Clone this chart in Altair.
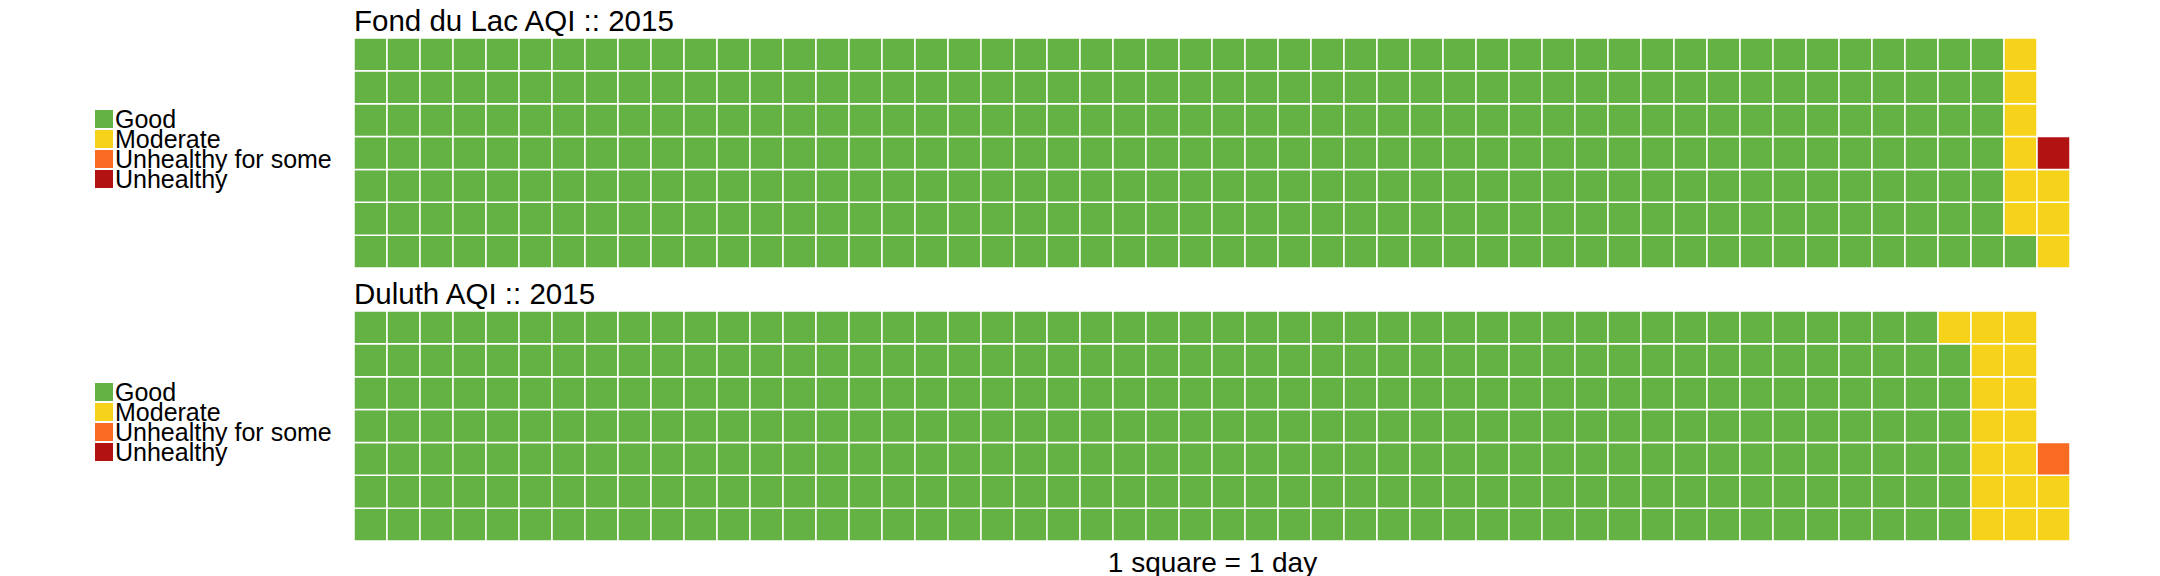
import altair as alt
import pandas as pd

# AQI categories and colours
categories = ["Good", "Moderate", "Unhealthy for some", "Unhealthy"]
colors = ["#64b244", "#f6d31a", "#f96a23", "#b31212"]

# number of days per category in 2015
fond_du_lac_days = [351, 9, 0, 1]
duluth_days = [342, 17, 1, 0]

titles = ["Fond du Lac AQI :: 2015", "Duluth AQI :: 2015"]
caption = "1 square = 1 day"

N_ROWS = 7
N_COLS = 52
FONT = "Liberation Sans"


def cells(counts):
    recs = []
    i = 0
    for cat, n in zip(categories, counts):
        for _ in range(n):
            recs.append({"col": i // N_ROWS, "row": i % N_ROWS, "category": cat})
            i += 1
    return pd.DataFrame(recs)


def panel(counts, title, with_caption):
    df = cells(counts)
    leg = pd.DataFrame({"category": categories})
    color = alt.Color(
        "category:N", scale=alt.Scale(domain=categories, range=colors), legend=None
    )
    if with_caption:
        x_axis = alt.Axis(
            title=caption, labels=False, ticks=False, domain=False, grid=False,
            titleFontSize=28, titleFont=FONT, titleFontWeight="normal",
            titleColor="black", titlePadding=8,
        )
    else:
        x_axis = None

    waffle = (
        alt.Chart(df)
        .transform_calculate(col1="datum.col + 1", row1="datum.row + 1")
        .mark_rect(stroke="white", strokeWidth=1.5)
        .encode(
            x=alt.X("col:Q", scale=alt.Scale(domain=[0, N_COLS], nice=False, zero=False), axis=x_axis),
            x2="col1:Q",
            y=alt.Y("row:Q", scale=alt.Scale(domain=[0, N_ROWS], nice=False, zero=False), axis=None),
            y2="row1:Q",
            color=color,
        )
    )

    legend_y = alt.Y(
        "category:N",
        scale=alt.Scale(type="point", domain=categories, range=[81, 141], padding=0),
        axis=None,
    )
    squares = (
        alt.Chart(leg)
        .mark_square(size=324, opacity=1, filled=True)
        .encode(x=alt.value(-250), y=legend_y, color=color)
    )
    labels = (
        alt.Chart(leg)
        .mark_text(align="left", baseline="alphabetic", dy=9, fontSize=25,
                   font=FONT, color="black")
        .encode(x=alt.value(-239), y=legend_y, text="category:N")
    )

    return (
        alt.layer(
            waffle, squares, labels,
            title=alt.TitleParams(
                title, anchor="start", frame="group", fontSize=29.5, font=FONT,
                fontWeight="normal", color="black", offset=0,
            ),
        )
        .resolve_scale(y="independent")
        .properties(width=1716, height=230)
    )


chart = (
    alt.vconcat(
        panel(fond_du_lac_days, titles[0], False),
        panel(duluth_days, titles[1], True),
        spacing=10,
    )
    .properties(padding={"left": 87, "top": -2, "right": 5, "bottom": 0})
    .configure_view(stroke=None)
)

chart.save("out.html", embed_options={"renderer": "svg", "actions": False})
